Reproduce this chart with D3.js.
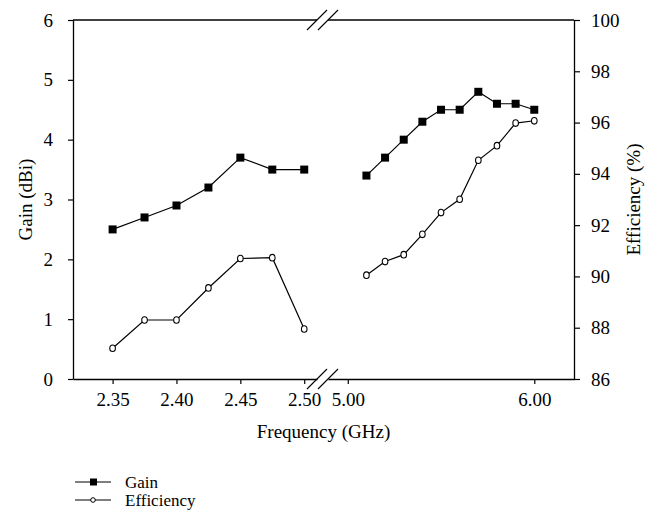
<body style="margin:0;background:#fff">
<svg></svg>
<script src="https://d3js.org/d3.v7.min.js"></script>
<script>

// data
var freqLow = [2.35, 2.375, 2.40, 2.425, 2.45, 2.475, 2.50];
var gainLow = [2.5, 2.7, 2.9, 3.2, 3.7, 3.5, 3.5];
var effLow = [87.2, 88.3, 88.3, 89.55, 90.7, 90.73, 87.95];

var freqHigh = [5.1, 5.2, 5.3, 5.4, 5.5, 5.6, 5.7, 5.8, 5.9, 6.0];
var gainHigh = [3.4, 3.7, 4.0, 4.3, 4.5, 4.5, 4.8, 4.6, 4.6, 4.5];
var effHigh = [90.05, 90.58, 90.85, 91.64, 92.49, 93.01, 94.53, 95.1, 95.98, 96.07];

var ticksLow = [2.35, 2.40, 2.45, 2.50];
var ticksHigh = [5.00, 6.00];
var gainTicks = [0, 1, 2, 3, 4, 5, 6];
var effTicks = [86, 88, 90, 92, 94, 96, 98, 100];

var width = 664, height = 512;
var pLeft = 73, pRight = 574, pTop = 20, pBottom = 379;
var breakA = 317, breakB = 328;
var font = "'Liberation Serif', 'Times New Roman', serif";
var fs = "19px";

const svg = d3.select("svg")
    .attr("width", width)
    .attr("height", height)
    .style("font-family", font);

var xLow = d3.scaleLinear().domain([2.319, 2.510]).range([pLeft, breakA]);
var xHigh = d3.scaleLinear().domain([4.894, 6.213]).range([breakB, pRight]);
var yGain = d3.scaleLinear().domain([0, 6]).range([pBottom, pTop]);
var yEff = d3.scaleLinear().domain([86, 100]).range([pBottom, pTop]);

function styleAxis(g) {
    g.selectAll("path").attr("stroke", "#000").attr("stroke-width", 1.3);
    g.selectAll("line").attr("stroke", "#000").attr("stroke-width", 1.2);
    g.selectAll("text").attr("fill", "#000").style("font-size", fs).style("font-family", font);
}

// left and right axes
svg.append("g")
    .attr("transform", `translate(${pLeft},0)`)
    .call(d3.axisLeft(yGain).tickValues(gainTicks).tickFormat(d3.format("d")).tickSize(5).tickPadding(15).tickSizeOuter(0))
    .call(styleAxis);

svg.append("g")
    .attr("transform", `translate(${pRight},0)`)
    .call(d3.axisRight(yEff).tickValues(effTicks).tickFormat(d3.format("d")).tickSize(6).tickPadding(11).tickSizeOuter(0))
    .call(styleAxis);

// bottom axes (two pieces)
svg.append("g")
    .attr("transform", `translate(0,${pBottom})`)
    .call(d3.axisBottom(xLow).tickValues(ticksLow).tickFormat(d3.format(".2f")).tickSize(5).tickPadding(9).tickSizeOuter(0))
    .call(styleAxis);

svg.append("g")
    .attr("transform", `translate(0,${pBottom})`)
    .call(d3.axisBottom(xHigh).tickValues(ticksHigh).tickFormat(d3.format(".2f")).tickSize(5).tickPadding(9).tickSizeOuter(0))
    .call(styleAxis);

// top frame line with the same gap
svg.append("line").attr("x1", pLeft).attr("x2", breakA).attr("y1", pTop).attr("y2", pTop)
    .attr("stroke", "#000").attr("stroke-width", 1.3);
svg.append("line").attr("x1", breakB).attr("x2", pRight).attr("y1", pTop).attr("y2", pTop)
    .attr("stroke", "#000").attr("stroke-width", 1.3);

// break marks
[pTop, pBottom].forEach(function(y) {
    [breakA, breakB].forEach(function(x) {
        svg.append("line")
            .attr("x1", x - 10).attr("y1", y + 10)
            .attr("x2", x + 10).attr("y2", y - 10)
            .attr("stroke", "#000").attr("stroke-width", 1.1);
    });
});

// series
var seriesLine = d3.line();
var plotSeries = function(xs, ys, xScale, yScale, kind) {
    var pts = xs.map((f, i) => [xScale(f), yScale(ys[i])]);
    svg.append("path")
        .attr("d", seriesLine(pts))
        .attr("fill", "none")
        .attr("stroke", "#000")
        .attr("stroke-width", 1.2);
    if (kind == "square") {
        svg.append("g").selectAll("rect")
            .data(pts)
            .join("rect")
                .attr("x", d => d[0] - 4)
                .attr("y", d => d[1] - 4)
                .attr("width", 8)
                .attr("height", 8)
                .attr("fill", "#000");
    } else {
        svg.append("g").selectAll("ellipse")
            .data(pts)
            .join("ellipse")
                .attr("cx", d => d[0])
                .attr("cy", d => d[1])
                .attr("rx", 2.8)
                .attr("ry", 3.3)
                .attr("fill", "#fff")
                .attr("stroke", "#000")
                .attr("stroke-width", 1.1);
    }
};

plotSeries(freqLow, gainLow, xLow, yGain, "square");
plotSeries(freqHigh, gainHigh, xHigh, yGain, "square");
plotSeries(freqLow, effLow, xLow, yEff, "circle");
plotSeries(freqHigh, effHigh, xHigh, yEff, "circle");

// axis titles
svg.append("text")
    .attr("transform", `translate(32,${(pTop + pBottom) / 2}) rotate(-90)`)
    .attr("text-anchor", "middle")
    .style("font-size", fs)
    .text("Gain (dBi)");

svg.append("text")
    .attr("transform", `translate(640,${(pTop + pBottom) / 2}) rotate(-90)`)
    .attr("text-anchor", "middle")
    .style("font-size", fs)
    .text("Efficiency (%)");

svg.append("text")
    .attr("x", (pLeft + pRight) / 2)
    .attr("y", 438)
    .attr("text-anchor", "middle")
    .style("font-size", fs)
    .text("Frequency (GHz)");

// legend
var legend = [
    {name: "Gain", kind: "square", y: 482},
    {name: "Efficiency", kind: "circle", y: 500}
];
legend.forEach(function(d) {
    svg.append("line").attr("x1", 75).attr("x2", 111).attr("y1", d.y).attr("y2", d.y)
        .attr("stroke", "#000").attr("stroke-width", 1.2);
    if (d.kind == "square") {
        svg.append("rect").attr("x", 90).attr("y", d.y - 3.5).attr("width", 7).attr("height", 7).attr("fill", "#000");
    } else {
        svg.append("circle").attr("cx", 93).attr("cy", d.y).attr("r", 2.3)
            .attr("fill", "#fff").attr("stroke", "#000").attr("stroke-width", 1);
    }
    svg.append("text").attr("x", 125).attr("y", d.y + 6)
        .style("font-size", "17px")
        .text(d.name);
});

</script>
</body>
